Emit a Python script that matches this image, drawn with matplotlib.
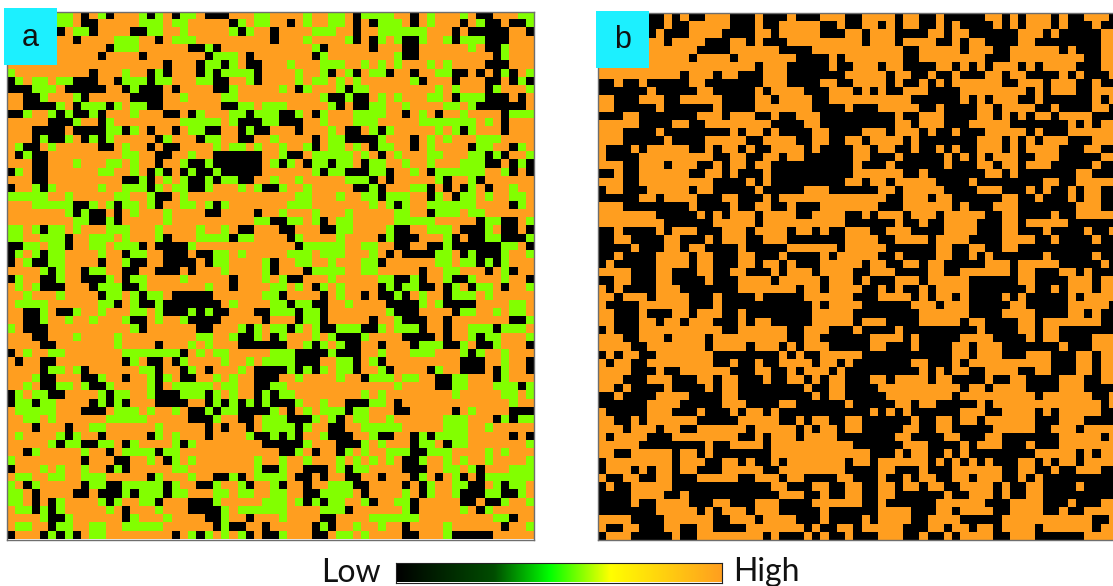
import numpy as np
import matplotlib
matplotlib.use("Agg")
import matplotlib.pyplot as plt
from matplotlib.colors import LinearSegmentedColormap
from matplotlib.patches import Rectangle

# '.' = high (orange), 'g' = middle (green), '#' = low (black)
a_top_left = [
"......gg.#.g#...g#g.#gg.###...gg.",
"......gg.##.....ggg.gg.....#g.gg.",
"......#.gg#....##gg..g.....g#g..#",
"........#....ggg..#.ggg.........#",
"............#ggg......##g#.......",
"...........#....#.......#ggg.#...",
"...................#...#gg#g.##..",
"g.........#...g..#g#...#g#gggg#.g",
"#g.gg.gg###..#ggg#gg...gg##..g#..",
"###ggg.#####..#g###.#....##g....g",
"..##g...g#.....####..g....gg.....",
"..####g.#ggg#g.gg##.......##gg.gg",
"##g..g#g##g#...g...##.#g...gg#ggg",
".....###g..#g........ggggg.g###gg",
"...####.####gg#g.#..#.gg##..#g##g",
"...#g##g.#g#g.....#g...#gg..##..g",
".g##.g.....##.g..#.##....g.gg.g..",
".#g##.........gg..##..g..######..",
"...##...g...gg.g..#..g##g######..",
"#g.##......gg..g.#g#.#g##g#####..",
"...##.........##g#.g.g##g#gg##...",
"#..g#g.....g..ggg#g.gg##g...g.g##",
"ggggg..g.....gg..g##.g...........",
"...ggggg##g.g#gg.g#..gg.g#g......",
".......g#g##.#.g...g....##....#..",
"........gg##g#.....g..........gg#",
"gg.g#gg.g...ggg...g....g..g.##...",
"gg..ggg#..ggg.g...g#...gggg#gg...",
"##gg.gg#..gg.ggg#.####g..........",
"#g.g#gg....g..#gg..###.##gg.g....",
"#.g##gg....#..g##..####.#gg....g.",
"....g#g..#gg..##..###.#...g....g.",
]
a_top_right = [
"....g..gg.#gggg..#.g...g.##...gg",
"..#.g..gg.#.#ggg.#.g...#.g##.##g",
"#....ggg..#..gggggg...#.#####..#",
"#...g....g#.#g.g##g..g#ggg###...",
".....g#.....#...##......g.##g...",
".....#g........g##.........#g...",
"..g...ggg..g.g.g...g.g....###...",
"...g..g#.g#.gg#..#..gg##.#.#g#.g",
"...g.gg.g.g......g#...#...##.#g#",
".g.#g...g#gg........g.g...#g...g",
"......g##g##.g.g...gg.#ggg###.#.",
"gg.....g#.##gg..g....gg.g######.",
"g##g.#g...gggg..#.g.#..g....#ggg",
"g###..g...ggg.....ggggggg.g.#...",
"...#...g.##.g#g.....g.g#g...#...",
"g....#.gg####g...#.g.g...ggg....",
".g..g#.gg.g.#gg..#.g....#gg..#g.",
".g##.ggggg.g.#.g...gg...gg#g#..g",
"g#g.#gg#gg.#gg..g..g...ggg##.#g#",
".....g#gg###gg#..g.#gggggg..g#.#",
"g..g.....ggg#.#.....g#..g#......",
"#g..g.....##g#...gg#.#.#g.#..g..",
"...gg...g..gg#ggg..#g.#gg.g..gg.",
"..ggg.......g.g#g..gggggg....#g.",
".g...g...g.....gg..#ggg.gg......",
"##gg.g#.gg.....ggggg.....#gg##.g",
".##...##gg....g##..ggg.###g.##.#",
"..#g....g....#g###...g#.##gg###g",
"...#ggggg..gg..##..##g######gg.#",
"..ggg.ggg...g.#.####gg.#g###g..g",
"#..gg..g...gg#......gg.gg#g#g...",
"#...#gggg..gg.....#..gg...#.g#..",
]
a_bottom_left = [
"#g..##g..###g.#gg....g.....#...g",
".g.g###...#ggg##g.......g..#....",
"..g...g....#gg.g#gg.#####......g",
".gggg......gg#.g##g#######.g....",
"..##g.##g..g...gg.g###g#g##...##",
"..##g..g..g...g##.g..g####.....#",
"g.###..........g#......##...g#g.",
"...##...g....g.........gg..g##g.",
"....##.......g....#...g.g...####",
"#.g..gg.......ggggggg#.g.gg.....",
".#..##........#g.##.#g....g..g.g",
"....#gg.g#......gg#..#g.#...g.##",
"...g##...##g..#..g#g.##..g.g..##",
"..g.##gg.g##g....g#.ggggg.gg..##",
"#g.gg##....g#gg..g###ggg#g.g..#g",
"#gg#gg....#g#g#...####..#g#g#g#g",
".ggggg...###.ggg.g..g.##g#gg####",
"..gg.g......ggggg.....###g..##.g",
"...#...#..gg......g.....#.#..#.g",
".g....g#g..#.....#g.g...#....g##",
".....g#gg##gg.#g....g#g........#",
"..#g.....g..#.gggg#gg...........",
"g........#...##..g.#g.g.......g.",
"#...g.g..g..#g#.....gg........g#",
".gg..gg..ggg.....#g...g..##g#.gg",
"g.#g.....#gg##ggggg#g..##g..g#..",
"gg.#....##.###g#ggg#gg...gg.gg..",
"gg.#.#g....g#g..gg#...###g.....g",
".gg#g#g.....g.#...g...####g.gggg",
"....g##g......#g...g....##g..#..",
".gg..#gg..gg..ggggg......#g##..#",
"#...#g#g#.gg........#.g#g.g.g#.#",
]
a_bottom_right = [
".g##...g.....gg##g#..g##g...g..#",
"gg.g.#g.g....#g#gg##.#g.#gg.#..g",
"g#....#.g..#.##g#.g..#ggg.g.....",
"gg#gg##..g....####g.g####....gg.",
"ggg#gg#.......g###....#gg..g.gg.",
"...#gg#.....#..g###..#.......##g",
"gg#g.g##ggg##g.ggg#..#..ggg#ggg.",
"#g...g.g###g....####.#..g#gg...g",
"##..g#g.g##..#...#ggg##g.##g...#",
"ggg####g###..g...ggg...g#g..g...",
"ggg###..gg#.g#.........###..g..#",
"##g#g#g.gg#..g#....#g..###.#g..#",
"#..g....g..#ggg.gg..##gg...#g...",
"gg.............g....##gg...ggg#g",
"#gg........g.g........g.....gg.g",
"###g..g..###gg.#.............g..",
"g.#.g.ggg#gg...##.....#.g....###",
"gg###g.g#.gg..g......ggg...#g#gg",
"ggg#g..##..ggggg.....ggg..g.....",
"g#g#..g###..g##..#g#gggg.....#.#",
"####g...###g.g...#gg.#gg.......g",
".##g.#..#g.g..ggg##ggg....g.g...",
".g..g...g.g.g.g.##g..g.g..g....g",
"#g..###.g#gg....###..gg.g#...ggg",
"gg.##.#..##..#...#g.#.g#.#gggggg",
"g#..#..ggg##....#.#g..gg##.g#gg.",
"gg..##gggg.#....g.#g..g###gg##g.",
"gg.g#g#gg..g#..gg#.....##.##g..g",
"gg....ggg#......g#.....g.#g.....",
".g....##....gggggg.........gg#..",
".....#g#..g..g..#....g......#..g",
"#g...##.gg.g....##...g#####.....",
]
b_top_left = [
"......##.#.##...###.###.###...##",
"......##.##.....###.##.....##.##",
"......#.###....####..#.....###..",
"........#....###..#.###.........",
"............####......####......",
"...........#....#.......####.#..",
"...................#...#####.##.",
"..........#...#..###...#######..",
"##.##.#####..#######...####..##.",
"######.#####..#####.#....###...#",
"..###...##.....####..#....##....",
"..#####.######.####.......####.#",
"###..#######...#...##.##...#####",
".....####..##........####..#####",
"...####.########.#..#.####..####",
"...#####.####.....##....##..##..",
".###.#.....##.#..#.##....#.####.",
".####.........##..##..#..######.",
"...##...#...##.#..#..##########.",
"##.##......##..#.###.##########.",
"...##.........####.#.#########..",
"#..###.....#..#####.#####...####",
"#####..#....###..###.#..........",
"...########.####.##..##.###.....",
".......#####.#.#...#....##....##",
"........######.....#..........##",
"##.####.#...###...#....#..#.##..",
"##..####..###.#...##...#######..",
"####.###..#..####.#####......#..",
"##.####....#..###..###.####.#...",
"#.#####....#..###..#..#.###.....",
"....###..###..##..###.#...#....#",
]
b_top_right = [
"....#..##.#####..#.#...#.##...#",
"..#.#..##.#.####.#.#...#.###.##",
"#...####..#..######...#.#####..",
"#...#....##.#..####..########..",
".....##.....#...##......#.###..",
".....##........###.........##..",
"..#..####..#.#.#...#.#....###..",
"...#..##.##.###..#..####.#.###.",
"...#.##.#.#......##...#...##.##",
".#.##...####........#.#...##...",
"......######.#.#...##.######.#.",
"##.....##.####..#....##.####..#",
"####.##...####..#.#.#..#....###",
"####..#...###.....#######.#.#..",
"...#...#.##.###.....#.###......",
"#....#.#######...#.#.#...###...",
".#..##.##.#.##...#.#....###..##",
".###.#####.#.#.#...##...#####..",
"###.######.###..#..#...#####.##",
".....##.#######..#.#######..###",
"#..#.....####.########..##.....",
"##..#.....####...###.#.##.#..##",
"...##...#..######..##.###.#..##",
"..###......#.###...#######...##",
".#...#...#.....##..####.##.....",
"####.##.##....###..#.....######",
".##...####....###..###.####.##.",
"..##....#....####....##.####.##",
"...######..##..##..############",
"..##.####..##.#.######.#####.##",
"#..##..#..#####...#.....#####.#",
"#...####..##......#..###..#.###",
]
b_bottom_left = [
"##..###..####.###....#.....#...#",
".#.####...#######.......#..#....",
"..#...#....###.####.#####......#",
".####......###.###########.#....",
"..###.###..#...##.########.....#",
"..###..#..#...###.#..#####.....#",
"#.###..........##......##...###.",
"...##...#....#.........##..#####",
"....##.......#....#...#.#...####",
"#.#..##.......########.#.##.....",
".#..##........##.##.##....#..#.#",
"....###.##......###..##.#...#.##",
"...###...###..#..###.##..#.#..##",
"..#.####.####.#..########.##..##",
"##.####....####..#########.#..##",
"######....#####...####..######.#",
".#####...###.###.#..#.##########",
"..##.#......#####.....##.#..##..",
"...#...#..##......#.....#.#..#..",
".#....###........##.#...#....###",
".....########.##....#..........#",
"..##.....#..#.#######...........",
"#........#...##..#.##.#.......#.",
"#...#.#..#..###.....##........##",
".##..##..###.....##...#..####..#",
"#.##.....############..###..##..",
"####....##.###########...##.##..",
"####.##....###..###...####......",
"#######.....#.#...#...#####.####",
"....####......##...#....###.####",
".##..###..##..####.......#.##..#",
"#...#####.##........#.###.#.##.#",
]
b_bottom_right = [
".###...#.....######..####...#..",
"##.#.##.#....#######.##.#...#..",
"##....#.#..#.####.#.#####.#....",
"######...#...#####..#####.....#",
"#######......####....####..#.##",
"...####.....#..####..#.......##",
"####.#########.####..#..#######",
"#....#.#####....####.#..####...",
"#..###.####..#...#######.###...",
"###########..#...###...###..#..",
"######..###.#..........###..#..",
"#######.#.#..##....##..###..#..",
"#..#....#..####.##..####...##..",
"##..........#..#....####...####",
"###........#.........#......##.",
"####..#..#####.#.............#.",
"#.#.#.######...##....#.#.....##",
"######.##..#..#......###...####",
"#####..##..#####.....##...#....",
"####..####..###..#######.....#.",
"#####...####.#...###.###.......",
".###.#..##.#.########.....#.#..",
".#......#.#.#.#.###..#.#..#....",
"##..###.###......##..##.##...##",
"##.##.#..##..#...##.#.#########",
"##..#..#..##....#.##..####.####",
"##..######.##...#.##..#########",
"##.######......###....###.###..",
"##....###..#....##....##.##....",
".#....##....#####...........##.",
".....###..#..#..#....#......#..",
"##...##.##.#....##...######....",
]
level_of = {".": 1.0, "g": 0.563, "#": 0.0}
panel_labels = ["a", "b"]
legend_low = "Low"
legend_high = "High"


def to_grid(left, right, width):
    rows = [l[:32] + r for l, r in zip(left, right)]
    return np.array([[level_of[ch] for ch in row.ljust(width, ".")[:width]]
                     for row in rows])


grid_a = to_grid(a_top_left + a_bottom_left, a_top_right + a_bottom_right, 64)
grid_b = to_grid(b_top_left + b_bottom_left, b_top_right + b_bottom_right, 63)

cmap = LinearSegmentedColormap.from_list("lowhigh", [
    (0.0, "#000000"), (0.30, "#004d00"), (0.47, "#00ff00"),
    (0.563, "#80ff00"), (0.656, "#ffff00"), (1.0, "#ff9e1f")])

W, H = 1113, 586
fig = plt.figure(figsize=(W / 100, H / 100), dpi=100)
CELL = 527 / 64


def add_axes_px(x0, y0, x1, y1):
    return fig.add_axes([x0 / W, 1 - y1 / H, (x1 - x0) / W, (y1 - y0) / H])


def panel(grid, x0, y0, y1, label, box):
    n = grid.shape[1]
    ax = add_axes_px(x0, y0, x0 + n * CELL, y1)
    ax.imshow(grid, cmap=cmap, vmin=0, vmax=1, aspect="auto",
              interpolation="nearest")
    ax.set_xticks([])
    ax.set_yticks([])
    for s in ax.spines.values():
        s.set_color("#6e6e6e")
        s.set_linewidth(1.0)
    bx0, by0, bx1, by1 = box
    fig.add_artist(Rectangle((bx0 / W, 1 - by1 / H), (bx1 - bx0) / W,
                             (by1 - by0) / H, transform=fig.transFigure,
                             facecolor="#1cf0ff", edgecolor="none", zorder=5))
    fig.text((bx0 + bx1) / 2 / W, 1 - ((by0 + by1) / 2 + 1) / H, label,
             family="Liberation Sans", fontsize=22, color="#111111",
             ha="center", va="center", zorder=6)


panel(grid_a, 7, 12, 539.5, panel_labels[0], (4, 8, 57, 65))
panel(grid_b, 598, 13, 540, panel_labels[1], (596, 11, 649, 68))

cax = add_axes_px(395.5, 562.5, 722.5, 582.5)
cax.imshow(np.linspace(0, 1, 512)[None, :], cmap=cmap, vmin=0, vmax=1,
           aspect="auto")
cax.set_xticks([])
cax.set_yticks([])
for s in cax.spines.values():
    s.set_color("#222222")
    s.set_linewidth(0.8)

fig.text(321 / W, 1 - 582 / H, legend_low, family="Lato", fontsize=23,
         color="#111111", ha="left", va="baseline")
fig.text(733 / W, 1 - 581 / H, legend_high, family="Lato", fontsize=23,
         color="#111111", ha="left", va="baseline")

fig.savefig("out.png", dpi=100)
